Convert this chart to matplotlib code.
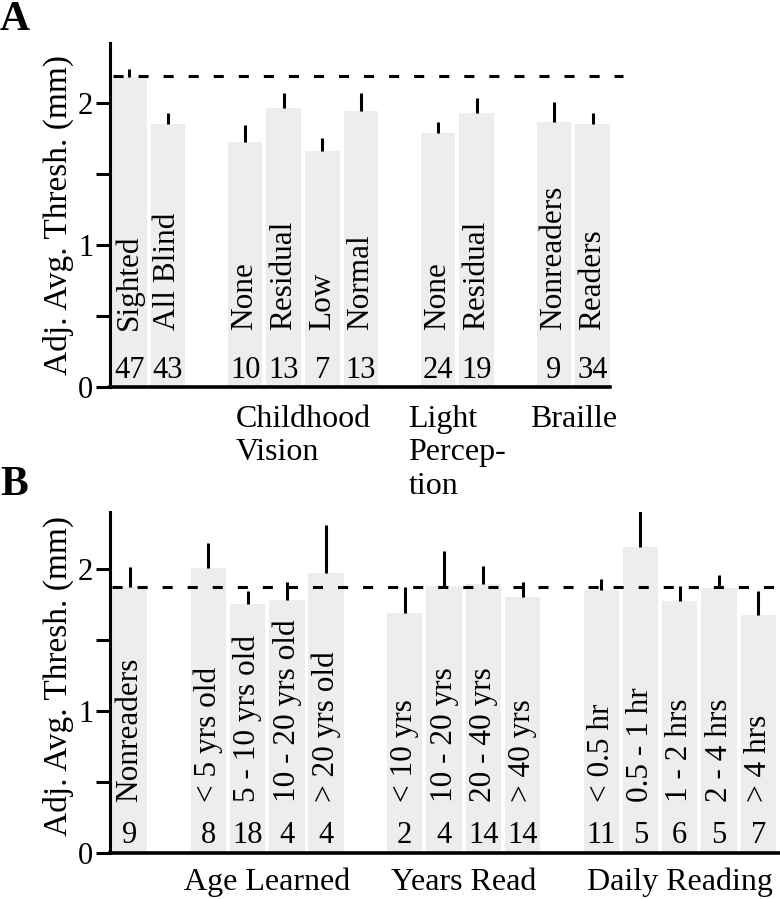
import numpy as np
import matplotlib
matplotlib.use("Agg")
import matplotlib.pyplot as plt

plt.rcParams['font.family'] = ['Liberation Serif', 'DejaVu Serif']

# Panel A data (groups of bars, one empty slot between groups)
a_groups = ["", "Childhood\nVision", "Light\nPercep-\ntion", "Braille"]
a_labels = [["Sighted", "All Blind"],
            ["None", "Residual", "Low", "Normal"],
            ["None", "Residual"],
            ["Nonreaders", "Readers"]]
a_means = [[2.18, 1.852], [1.723, 1.963, 1.662, 1.944], [1.787, 1.927], [1.864, 1.85]]
a_errs = [[0.058, 0.073], [0.122, 0.106, 0.089, 0.124], [0.077, 0.108], [0.141, 0.077]]
a_counts = [[47, 43], [10, 13, 7, 13], [24, 19], [9, 34]]
a_ref = 2.185

# Panel B data
b_groups = ["", "Age Learned", "Years Read", "Daily Reading"]
b_labels = [["Nonreaders"],
            ["< 5 yrs old", "5 - 10 yrs old", "10 - 20 yrs old", "> 20 yrs old"],
            ["< 10 yrs", "10 - 20 yrs", "20 - 40 yrs", "> 40 yrs"],
            ["< 0.5 hr", "0.5 - 1 hr", "1 - 2 hrs", "2 - 4 hrs", "> 4 hrs"]]
b_means = [[1.87], [2.005, 1.754, 1.782, 1.97], [1.692, 1.88, 1.894, 1.801],
           [1.852, 2.157, 1.775, 1.868, 1.676]]
b_errs = [[0.141], [0.176, 0.092, 0.125, 0.335], [0.183, 0.249, 0.127, 0.105],
          [0.075, 0.247, 0.105, 0.09, 0.169]]
b_counts = [[9], [8, 18, 4, 4], [2, 4, 14, 14], [11, 5, 6, 5, 7]]
b_ref = 1.873

W, H = 780, 899
fig = plt.figure(figsize=(W / 100, H / 100), dpi=100)

bar_color = '#ededed'
lw = 2.2


def draw_panel(ax, groups, labels, means, errs, counts, ref, ytop, xright,
               spine_end, label_y, count_y, group_y, ref_x0, ref_x1):
    pos = 0
    for g, name in enumerate(groups):
        xs = np.arange(pos, pos + len(labels[g]))
        m = np.array(means[g])
        e = np.array(errs[g])
        ax.bar(xs, m, width=0.9, color=bar_color, zorder=1)
        ax.errorbar(xs, m, yerr=[np.zeros(len(e)), e], fmt='none',
                    ecolor='black', elinewidth=lw, capsize=0, zorder=3)
        for x, lab, n in zip(xs, labels[g], counts[g]):
            ax.text(x, label_y, lab, rotation=90, ha='center', va='bottom',
                    fontsize=22.5, zorder=4)
            ax.text(x, count_y, str(n), ha='center', va='baseline',
                    fontsize=22, zorder=4)
        if name:
            ax.text(xs.mean(), group_y, name, ha='center', va='top',
                    multialignment='left', fontsize=23, linespacing=1.2,
                    clip_on=False)
        pos = xs[-1] + 2

    # reference line (sighted / nonreaders mean)
    ax.plot([ref_x0, ref_x1], [ref, ref], color='black', lw=lw,
            dashes=(3.3, 4.9), clip_on=False, zorder=2)

    ax.set_xlim(-0.5, xright)
    ax.set_ylim(0, ytop)
    ax.set_xticks([])
    ax.set_yticks([0, 0.5, 1, 1.5, 2])
    ax.set_yticklabels(['0', '', '1', '', '2'])
    ax.tick_params(axis='y', length=10, width=lw, labelsize=22, pad=2)
    for s in ['top', 'right']:
        ax.spines[s].set_visible(False)
    ax.spines['left'].set_linewidth(lw)
    ax.spines['bottom'].set_linewidth(lw + 0.4)
    ax.spines['bottom'].set_bounds(-0.5, spine_end)
    ax.set_ylabel("Adj. Avg. Thresh. (mm)", fontsize=24)


# Panel A
ax1 = fig.add_axes([110 / W, (H - 387) / H, 513.4 / W, 344 / H])
draw_panel(ax1, a_groups, a_labels, a_means, a_errs, a_counts, a_ref,
           ytop=2.42, xright=12.8, spine_end=12.45, label_y=0.40,
           count_y=0.061, group_y=-0.125, ref_x0=-0.42, ref_x1=12.79)
ax1.yaxis.set_label_coords(-36 / 513.4, 0.5)

# Panel B
ax2 = fig.add_axes([110 / W, (H - 853) / H, 670 / W, 341 / H])
draw_panel(ax2, b_groups, b_labels, b_means, b_errs, b_counts, b_ref,
           ytop=2.40, xright=16.55, spine_end=16.55, label_y=0.36,
           count_y=0.073, group_y=-0.105, ref_x0=-0.45, ref_x1=16.55)
ax2.yaxis.set_label_coords(-36 / 670, 0.52)

# panel letters
fig.text(0.0, 1 - 30 / H, "A", fontsize=30, fontweight='bold', va='baseline')
fig.text(0.0, 1 - 495 / H, "B", fontsize=30, fontweight='bold', va='baseline')

plt.savefig("out.png", dpi=100)
